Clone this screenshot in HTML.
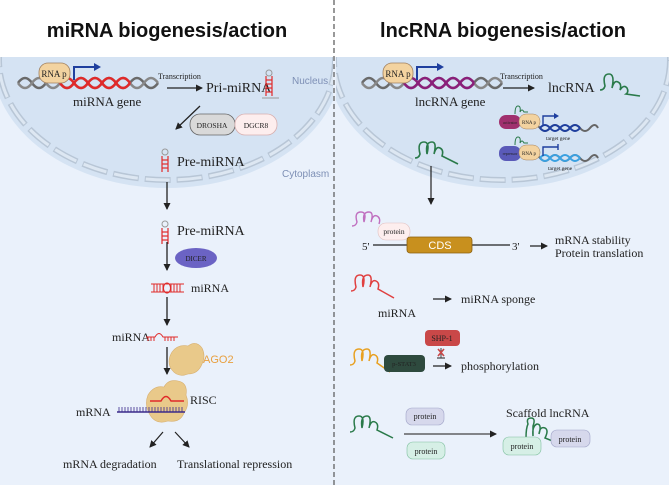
<!DOCTYPE html>
<html><head><meta charset="utf-8"><style>
html,body{margin:0;padding:0;background:#fff}
svg{display:block}
.s{font-family:"Liberation Serif",serif;fill:#222}
.a{font-family:"Liberation Sans",sans-serif}
</style></head><body>
<svg width="669" height="486" viewBox="0 0 669 486" xmlns="http://www.w3.org/2000/svg">
<defs>
<marker id="ah" markerWidth="8" markerHeight="8" refX="6" refY="4" orient="auto" markerUnits="userSpaceOnUse"><path d="M0,0.5 L7,4 L0,7.5 Z" fill="#222"/></marker>
<clipPath id="cl"><rect x="0" y="57" width="333" height="428"/></clipPath>
<clipPath id="cr"><rect x="336" y="57" width="333" height="428"/></clipPath>
</defs>
<rect x="0" y="57" width="669" height="428" fill="#eaf1fb"/>
<g clip-path="url(#cl)">
<ellipse cx="167" cy="60" rx="175" ry="128" fill="#d5e3f3"/>
<ellipse cx="167" cy="60" rx="168" ry="120" fill="none" stroke="#b8c6d6" stroke-width="6" stroke-dasharray="26,6"/>
<ellipse cx="167" cy="60" rx="168" ry="120" fill="none" stroke="#dde7f2" stroke-width="3" stroke-dasharray="24,8" stroke-dashoffset="-1"/>
</g>
<g clip-path="url(#cr)">
<ellipse cx="502" cy="60" rx="175" ry="128" fill="#d5e3f3"/>
<ellipse cx="502" cy="60" rx="168" ry="120" fill="none" stroke="#b8c6d6" stroke-width="6" stroke-dasharray="26,6"/>
<ellipse cx="502" cy="60" rx="168" ry="120" fill="none" stroke="#dde7f2" stroke-width="3" stroke-dasharray="24,8" stroke-dashoffset="-1"/>
</g>
<line x1="334" y1="0" x2="334" y2="486" stroke="#555" stroke-width="1.2" stroke-dasharray="5,3"/>
<text x="167" y="37" text-anchor="middle" class="a" font-weight="bold" font-size="20" fill="#111">miRNA biogenesis/action</text>
<text x="503" y="37" text-anchor="middle" class="a" font-weight="bold" font-size="20" fill="#111">lncRNA biogenesis/action</text>

<!-- LEFT DNA -->
<g fill="none" stroke-width="2.5">
<path d="M18,83 q7,-10 14,0 t14,0 t14,0 t14,0 t14,0 t14,0 t14,0 t14,0 t14,0 t14,0" stroke="#6a6a6a"/>
<path d="M18,83 q7,10 14,0 t14,0 t14,0 t14,0 t14,0 t14,0 t14,0 t14,0 t14,0 t14,0" stroke="#888"/>
<path d="M60,83 q7,10 14,0 t14,0 t14,0 t14,0 t14,0" stroke="#e02a2a"/>
<path d="M60,83 q7,-10 14,0 t14,0 t14,0 t14,0 t14,0" stroke="#e02a2a"/>
</g>
<rect x="39" y="63" width="31" height="20" rx="9" fill="#f3d3a0" stroke="#a08060" stroke-width="0.8"/>
<text x="54" y="77" text-anchor="middle" class="s" font-size="9">RNA p</text>
<path d="M74,80 V67 H96" fill="none" stroke="#1f3f9e" stroke-width="2"/><path d="M94,63 L101,67 L94,71Z" fill="#1f3f9e"/>
<text x="73" y="106" class="s" font-size="13">miRNA gene</text>
<text x="158" y="79" class="s" font-size="8">Transcription</text>
<line x1="167" y1="88" x2="202" y2="88" stroke="#222" stroke-width="1.3" marker-end="url(#ah)"/>
<text x="206" y="92" class="s" font-size="14">Pri-miRNA</text>
<g stroke="#e02a2a" stroke-width="1.2"><line x1="266" y1="76" x2="266" y2="96"/><line x1="272" y1="76" x2="272" y2="96"/><line x1="266" y1="80" x2="272" y2="80"/><line x1="266" y1="84" x2="272" y2="84"/><line x1="266" y1="88" x2="272" y2="88"/><line x1="266" y1="92" x2="272" y2="92"/></g>
<circle cx="269" cy="73" r="3" fill="none" stroke="#999"/><line x1="262" y1="98" x2="279" y2="98" stroke="#999"/>
<text x="292" y="84" class="a" font-size="10" fill="#7d8fb5">Nucleus</text>
<line x1="200" y1="106" x2="176" y2="129" stroke="#222" stroke-width="1.3" marker-end="url(#ah)"/>
<rect x="190" y="114" width="45" height="21" rx="10" fill="#d9d9d9" stroke="#666" stroke-width="0.8"/>
<text x="212" y="128" text-anchor="middle" class="s" font-size="7.5">DROSHA</text>
<rect x="235" y="114" width="42" height="21" rx="10" fill="#fdeeee" stroke="#d8b0b0" stroke-width="0.8"/>
<text x="256" y="128" text-anchor="middle" class="s" font-size="7.5">DGCR8</text>
<g id="pre" stroke="#e02a2a" stroke-width="1.2"><line x1="162" y1="156" x2="162" y2="172"/><line x1="168" y1="156" x2="168" y2="172"/><line x1="162" y1="160" x2="168" y2="160"/><line x1="162" y1="164" x2="168" y2="164"/><line x1="162" y1="168" x2="168" y2="168"/></g>
<circle cx="165" cy="152" r="3" fill="none" stroke="#999"/>
<text x="177" y="166" class="s" font-size="14">Pre-miRNA</text>
<text x="282" y="177" class="a" font-size="10" fill="#7d8fb5">Cytoplasm</text>
<line x1="167" y1="182" x2="167" y2="209" stroke="#222" stroke-width="1.3" marker-end="url(#ah)"/>
<use href="#pre" y="72"/><circle cx="165" cy="224" r="3" fill="none" stroke="#999"/>
<text x="177" y="235" class="s" font-size="14">Pre-miRNA</text>
<line x1="167" y1="242" x2="167" y2="270" stroke="#222" stroke-width="1.3" marker-end="url(#ah)"/>
<ellipse cx="196" cy="258" rx="21" ry="10" fill="#6b63c4"/>
<text x="196" y="261" text-anchor="middle" class="s" font-size="7" fill="#fff">DICER</text>
<g stroke="#e02a2a" stroke-width="1"><line x1="151" y1="284" x2="184" y2="284"/><line x1="151" y1="292" x2="184" y2="292"/>
<path d="M154,284v8M157,284v8M160,284v8M163,284v8M171,284v8M174,284v8M177,284v8M180,284v8"/></g>
<ellipse cx="167" cy="288" rx="3.5" ry="5" fill="none" stroke="#e02a2a"/>
<text x="191" y="292" class="s" font-size="12">miRNA</text>
<line x1="167" y1="297" x2="167" y2="325" stroke="#222" stroke-width="1.3" marker-end="url(#ah)"/>
<text x="112" y="341" class="s" font-size="12">miRNA</text>
<path d="M146,337H155 q4,-7 8,0 H178 M148,337v4M151,337v4M154,337v4M165,337v4M168,337v4M171,337v4M174,337v4" fill="none" stroke="#e02a2a" stroke-width="1"/>
<line x1="167" y1="347" x2="167" y2="374" stroke="#222" stroke-width="1.3" marker-end="url(#ah)"/>
<path d="M172,352 q6,-8 16,-6 q8,-6 14,2 q4,8 0,16 q-4,10 -14,10 q-10,4 -16,-4 q-6,-8 0,-18Z" fill="#e9c98a" stroke="#d8b070" stroke-width="0.6"/>
<text x="203" y="363" class="a" font-size="11" fill="#e8a040">AGO2</text>
<path d="M148,395 q6,-10 16,-8 q4,-8 14,-6 q10,2 8,14 q4,10 -2,18 q-4,10 -16,8 q-12,4 -18,-6 q-6,-10 -2,-20Z" fill="#e9c98a" stroke="#d8b070" stroke-width="0.6"/>
<path d="M150,401H161 q5,-9 10,0 H184" fill="none" stroke="#e02a2a" stroke-width="1.4"/>
<line x1="117" y1="412" x2="185" y2="412" stroke="#3a2a8a" stroke-width="1.6"/>
<path d="M119,412v-5M122,412v-5M125,412v-5M128,412v-5M131,412v-5M134,412v-5M137,412v-5M140,412v-5M143,412v-5M146,412v-5M149,412v-5M152,412v-5M155,412v-5M158,412v-5M161,412v-5M164,412v-5M167,412v-5M170,412v-5M173,412v-5M176,412v-5M179,412v-5M182,412v-5" stroke="#3a2a8a" stroke-width="0.8"/>
<text x="76" y="416" class="s" font-size="12">mRNA</text>
<text x="190" y="404" class="s" font-size="12">RISC</text>
<line x1="163" y1="432" x2="150" y2="447" stroke="#222" stroke-width="1.2" marker-end="url(#ah)"/>
<line x1="175" y1="432" x2="189" y2="447" stroke="#222" stroke-width="1.2" marker-end="url(#ah)"/>
<text x="63" y="468" class="s" font-size="12">mRNA degradation</text>
<text x="177" y="468" class="s" font-size="12">Translational repression</text>

<!-- RIGHT -->
<g fill="none" stroke-width="2.5">
<path d="M362,83 q7,-10 14,0 t14,0 t14,0 t14,0 t14,0 t14,0 t14,0 t14,0 t14,0 t14,0" stroke="#6a6a6a"/>
<path d="M362,83 q7,10 14,0 t14,0 t14,0 t14,0 t14,0 t14,0 t14,0 t14,0 t14,0 t14,0" stroke="#888"/>
<path d="M404,83 q7,10 14,0 t14,0 t14,0 t14,0 t14,0" stroke="#8a1f7a"/>
<path d="M404,83 q7,-10 14,0 t14,0 t14,0 t14,0 t14,0" stroke="#8a1f7a"/>
</g>
<rect x="383" y="63" width="30" height="20" rx="9" fill="#f3d3a0" stroke="#a08060" stroke-width="0.8"/>
<text x="398" y="77" text-anchor="middle" class="s" font-size="9">RNA p</text>
<path d="M417,80 V67 H439" fill="none" stroke="#1f3f9e" stroke-width="2"/><path d="M437,63 L444,67 L437,71Z" fill="#1f3f9e"/>
<text x="415" y="106" class="s" font-size="13">lncRNA gene</text>
<text x="500" y="79" class="s" font-size="8">Transcription</text>
<line x1="503" y1="88" x2="534" y2="88" stroke="#222" stroke-width="1.3" marker-end="url(#ah)"/>
<text x="548" y="92" class="s" font-size="14">lncRNA</text>
<path d="M600,90 q4,0 5,-4 q-3,-12 4,-12 q6,0 3,14 q2,-8 6,-6 q4,2 2,8 q4,-6 7,-2 q2,4 -1,6 L640,96" fill="none" stroke="#2a7a4a" stroke-width="1.6"/>
<!-- activator -->
<g fill="none" stroke-width="2">
<path d="M530,128 q5,-6 10,0 t10,0 t10,0 t10,0 t10,0 t10,0 t8,0" stroke="#666"/>
<path d="M540,128 q5,6 10,0 t10,0 t10,0 t10,0" stroke="#1f3f9e"/>
<path d="M540,128 q5,-6 10,0 t10,0 t10,0 t10,0" stroke="#1f3f9e"/>
<path d="M530,158 q5,-6 10,0 t10,0 t10,0 t10,0 t10,0 t10,0 t8,0" stroke="#666"/>
<path d="M540,158 q5,6 10,0 t10,0 t10,0 t10,0" stroke="#3aa0e0"/>
<path d="M540,158 q5,-6 10,0 t10,0 t10,0 t10,0" stroke="#3aa0e0"/>
</g>
<rect x="499" y="115" width="22" height="14" rx="7" fill="#a0306e"/>
<text x="510" y="124" text-anchor="middle" class="s" font-size="4" fill="#fff">activator</text>
<rect x="519" y="114" width="21" height="15" rx="7" fill="#f3d3a0" stroke="#a08060" stroke-width="0.5"/>
<text x="529" y="124" text-anchor="middle" class="s" font-size="5">RNA p</text>
<path d="M543,125 V116 H555" fill="none" stroke="#1f3f9e" stroke-width="1.4"/><path d="M554,113 L559,116 L554,119Z" fill="#1f3f9e"/>
<path d="M515,114 q0,-8 3,-8 q3,0 2,6 q2,-4 4,0 l4,0" fill="none" stroke="#2a7a4a" stroke-width="1"/>
<text x="546" y="140" class="s" font-size="5.5">target gene</text>
<rect x="499" y="146" width="22" height="15" rx="7" fill="#5a5ab8"/>
<text x="510" y="155" text-anchor="middle" class="s" font-size="4" fill="#fff">repressor</text>
<rect x="519" y="145" width="21" height="15" rx="7" fill="#f3d3a0" stroke="#a08060" stroke-width="0.5"/>
<text x="529" y="155" text-anchor="middle" class="s" font-size="5">RNA p</text>
<path d="M543,156 V147 H558 M558,144 V150" fill="none" stroke="#1f3f9e" stroke-width="1.4"/>
<path d="M515,145 q0,-8 3,-8 q3,0 2,6 q2,-4 4,0 l4,0" fill="none" stroke="#2a7a4a" stroke-width="1"/>
<text x="548" y="170" class="s" font-size="5.5">target gene</text>
<path d="M415,158 q4,0 5,-4 q-3,-12 4,-12 q6,0 3,12 q-2,-12 5,-12 q5,0 2,12 q2,-8 6,-6 q4,2 2,8 L458,164" fill="none" stroke="#2a7a4a" stroke-width="1.6"/>
<line x1="431" y1="166" x2="431" y2="204" stroke="#222" stroke-width="1.2" marker-end="url(#ah)"/>
<!-- CDS -->
<path d="M352,226 q4,0 5,-4 q-3,-10 4,-10 q6,0 3,10 q-2,-10 5,-10 q5,0 2,10 q2,-8 6,-6 q4,2 2,8" fill="none" stroke="#c070c0" stroke-width="1.4"/>
<line x1="373" y1="245" x2="510" y2="245" stroke="#222" stroke-width="1.3"/>
<rect x="378" y="223" width="32" height="17" rx="8" fill="#fdeeee" stroke="#e0c0c0" stroke-width="0.6"/>
<text x="394" y="234" text-anchor="middle" class="s" font-size="7.5">protein</text>
<text x="362" y="250" class="s" font-size="11">5'</text>
<rect x="407" y="237" width="65" height="16" rx="3" fill="#c8901e" stroke="#8a6010" stroke-width="0.8"/>
<text x="440" y="249" text-anchor="middle" class="a" font-size="11" fill="#fff">CDS</text>
<text x="512" y="250" class="s" font-size="11">3'</text>
<line x1="530" y1="246" x2="547" y2="246" stroke="#222" stroke-width="1.2" marker-end="url(#ah)"/>
<text x="555" y="244" class="s" font-size="12">mRNA stability</text>
<text x="555" y="257" class="s" font-size="12">Protein translation</text>
<!-- sponge -->
<path d="M351,291 q4,0 5,-4 q-3,-12 4,-12 q6,0 3,12 q-2,-12 5,-12 q5,0 2,12 q2,-8 6,-6 q4,2 2,8 L394,298" fill="none" stroke="#e04040" stroke-width="1.5"/>
<text x="378" y="317" class="s" font-size="12">miRNA</text>
<line x1="433" y1="299" x2="451" y2="299" stroke="#222" stroke-width="1.2" marker-end="url(#ah)"/>
<text x="461" y="303" class="s" font-size="12">miRNA sponge</text>
<!-- phosph -->
<path d="M350,365 q4,0 5,-4 q-3,-12 4,-12 q6,0 3,12 q-2,-12 5,-12 q5,0 2,12 q2,-8 6,-6 q4,2 2,8 L390,372" fill="none" stroke="#e8a020" stroke-width="1.5"/>
<rect x="384" y="355" width="41" height="17" rx="4" fill="#2e4a3e"/>
<text x="404" y="366" text-anchor="middle" class="s" font-size="6.5" fill="#ddd">p-STAT3</text>
<rect x="425" y="330" width="35" height="16" rx="4" fill="#c94848"/>
<text x="442" y="341" text-anchor="middle" class="s" font-size="8" fill="#fff">SHP-1</text>
<line x1="441" y1="348" x2="441" y2="358" stroke="#444" stroke-width="1"/><line x1="437" y1="358" x2="445" y2="358" stroke="#444" stroke-width="1.2"/>
<path d="M438,349 L444,356 M444,349 L438,356" stroke="#c94848" stroke-width="1.6"/>
<line x1="433" y1="366" x2="451" y2="366" stroke="#222" stroke-width="1.2" marker-end="url(#ah)"/>
<text x="461" y="370" class="s" font-size="12">phosphorylation</text>
<!-- scaffold -->
<path d="M350,432 q4,0 5,-4 q-3,-12 4,-12 q6,0 3,12 q-2,-12 5,-12 q5,0 2,12 q2,-8 6,-6 q4,2 2,8 L393,438" fill="none" stroke="#2a7a4a" stroke-width="1.5"/>
<rect x="406" y="408" width="38" height="17" rx="6" fill="#d6d8ec" stroke="#a0a4c8" stroke-width="0.6"/>
<text x="425" y="419" text-anchor="middle" class="s" font-size="8">protein</text>
<rect x="407" y="442" width="38" height="17" rx="6" fill="#d6efe6" stroke="#80c0a0" stroke-width="0.6"/>
<text x="426" y="454" text-anchor="middle" class="s" font-size="8">protein</text>
<line x1="404" y1="434" x2="496" y2="434" stroke="#444" stroke-width="1.3" marker-end="url(#ah)"/>
<text x="506" y="417" class="s" font-size="12">Scaffold lncRNA</text>
<path d="M526,438 q0,-10 2,-14 q-2,-6 3,-6 q5,0 2,8 l0,10 q-1,-10 4,-12 q5,0 2,10 q1,-8 6,-6 q4,2 0,10 L560,444" fill="none" stroke="#2a7a4a" stroke-width="1.5"/>
<rect x="503" y="437" width="38" height="18" rx="6" fill="#d6efe6" stroke="#80c0a0" stroke-width="0.6"/>
<text x="522" y="449" text-anchor="middle" class="s" font-size="8">protein</text>
<rect x="551" y="430" width="39" height="17" rx="6" fill="#d6d8ec" stroke="#a0a4c8" stroke-width="0.6"/>
<text x="570" y="442" text-anchor="middle" class="s" font-size="8">protein</text>
</svg>
</body></html>
